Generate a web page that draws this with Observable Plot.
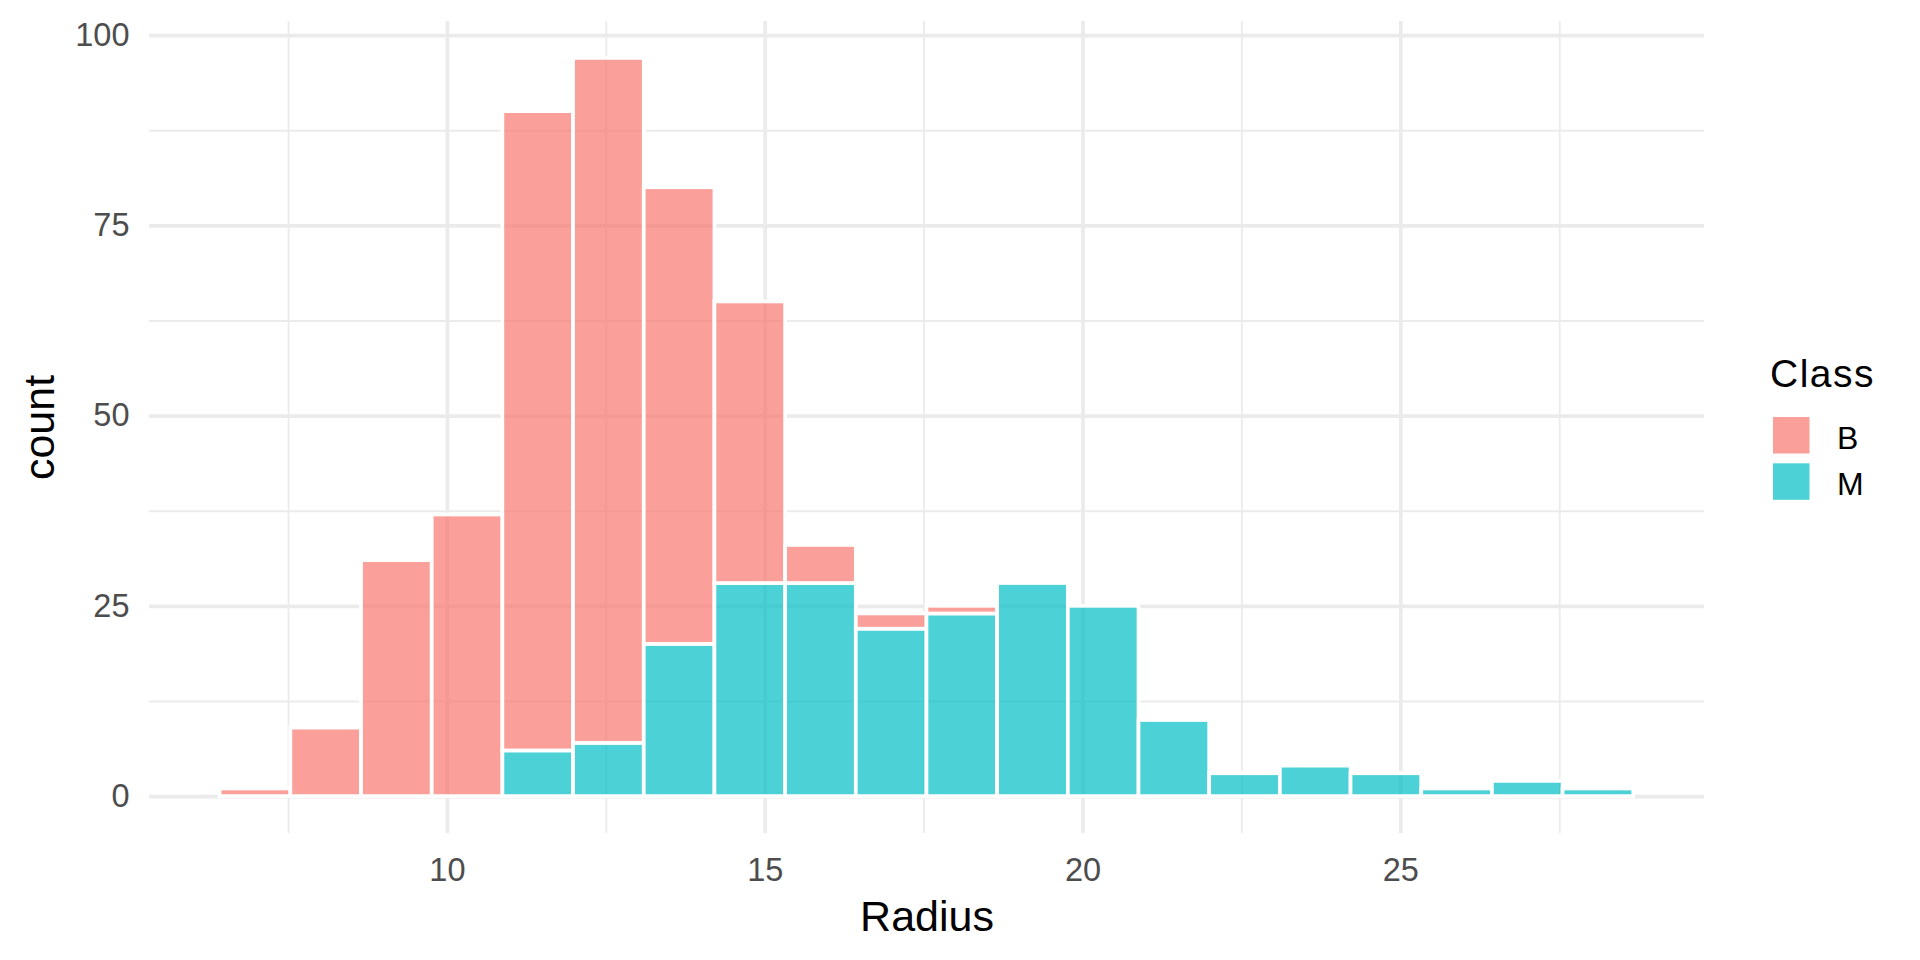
<!DOCTYPE html>
<html>
<head>
<meta charset="utf-8">
<script src="https://cdn.jsdelivr.net/npm/d3@7"></script>
<script src="https://cdn.jsdelivr.net/npm/@observablehq/plot@0.6"></script>
<style>
  html, body { margin: 0; padding: 0; background: #fff; }
  #wrap { position: relative; width: 1920px; height: 960px; font-family: "Liberation Sans", Arial, sans-serif; }
  #legend { position: absolute; left: 0; top: 0; }
</style>
</head>
<body>
<div id="wrap"></div>
<script>
// ---- data ----
const binEdges = [6.425, 7.537, 8.649, 9.761, 10.873, 11.985, 13.097, 14.209, 15.321, 16.433, 17.545,
                  18.657, 19.769, 20.881, 21.993, 23.105, 24.217, 25.329, 26.441, 27.553, 28.665];
const countsB = [1, 9, 31, 37, 84, 90, 60, 37, 5, 2, 1, 0, 0, 0, 0, 0, 0, 0, 0, 0];
const countsM = [0, 0, 0, 0, 6, 7, 20, 28, 28, 22, 24, 28, 25, 10, 3, 4, 3, 1, 2, 1];
const classes = ["B", "M"];
const classColors = ["#F8766D", "#00BFC4"];
const xTicks = [10, 15, 20, 25];
const xMinor = [7.5, 12.5, 17.5, 22.5, 27.5];
const yTicks = [0, 25, 50, 75, 100];
const yMinor = [12.5, 37.5, 62.5, 87.5];
const xDomain = [5.313, 29.778];
const yDomain = [-4.85, 101.85];

// build table (M stacked at bottom, B on top)
const rows = [];
for (let i = 0; i < countsB.length; i++) {
  if (countsM[i] > 0) rows.push({x1: binEdges[i], x2: binEdges[i + 1], count: countsM[i], Class: "M"});
  if (countsB[i] > 0) rows.push({x1: binEdges[i], x2: binEdges[i + 1], count: countsB[i], Class: "B"});
}

const grid = "#EBEBEB";
const font = "'Liberation Sans', Arial, sans-serif";

const plot = Plot.plot({
  width: 1920,
  height: 960,
  marginLeft: 149,
  marginRight: 216,
  marginTop: 21,
  marginBottom: 127,
  style: {fontFamily: font, background: "#fff"},
  x: {domain: xDomain, axis: null},
  y: {domain: yDomain, axis: null},
  color: {domain: classes, range: classColors},
  marks: [
    Plot.ruleX(xMinor, {stroke: grid, strokeWidth: 1.85}),
    Plot.ruleY(yMinor, {stroke: grid, strokeWidth: 1.85}),
    Plot.ruleX(xTicks, {stroke: grid, strokeWidth: 3.7}),
    Plot.ruleY(yTicks, {stroke: grid, strokeWidth: 3.7}),
    Plot.rectY(rows, Plot.stackY({
      x1: "x1", x2: "x2", y: "count", fill: "Class", z: "Class",
      order: ["M", "B"],
      fillOpacity: 0.7, stroke: "white", strokeWidth: 3.7
    })),
    Plot.axisX(xTicks, {tickSize: 0, tickPadding: 24, fontSize: 32.5, color: "#4D4D4D", label: null}),
    Plot.axisY(yTicks, {tickSize: 0, tickPadding: 20, fontSize: 32.5, color: "#4D4D4D", label: null}),
    Plot.text(["Radius"], {frameAnchor: "bottom", dy: 97, lineAnchor: "bottom", textAnchor: "middle", fontSize: 43, fill: "black"}),
    Plot.text(["count"], {frameAnchor: "left", dx: -96, lineAnchor: "bottom", textAnchor: "middle", rotate: -90, fontSize: 43, fill: "black"})
  ]
});

const wrap = document.getElementById("wrap");
wrap.appendChild(plot);

// legend (right side), colours from the plot's colour scale
const color = plot.scale("color");
const lg = d3.select(wrap).append("svg")
  .attr("id", "legend")
  .attr("width", 1920).attr("height", 960)
  .style("pointer-events", "none")
  .style("font-family", font);
lg.append("text").attr("x", 1770).attr("y", 387).attr("font-size", 39)
  .attr("letter-spacing", 1.5).attr("fill", "black").text("Class");
color.domain.forEach((c, i) => {
  const y0 = 417 + i * 46.3;
  lg.append("rect").attr("x", 1773).attr("y", y0).attr("width", 36.5).attr("height", 36.5)
    .attr("fill", color.apply(c)).attr("fill-opacity", 0.7);
  lg.append("text").attr("x", 1837).attr("y", y0 + 32).attr("font-size", 32).attr("fill", "black").text(c);
});
</script>
</body>
</html>
